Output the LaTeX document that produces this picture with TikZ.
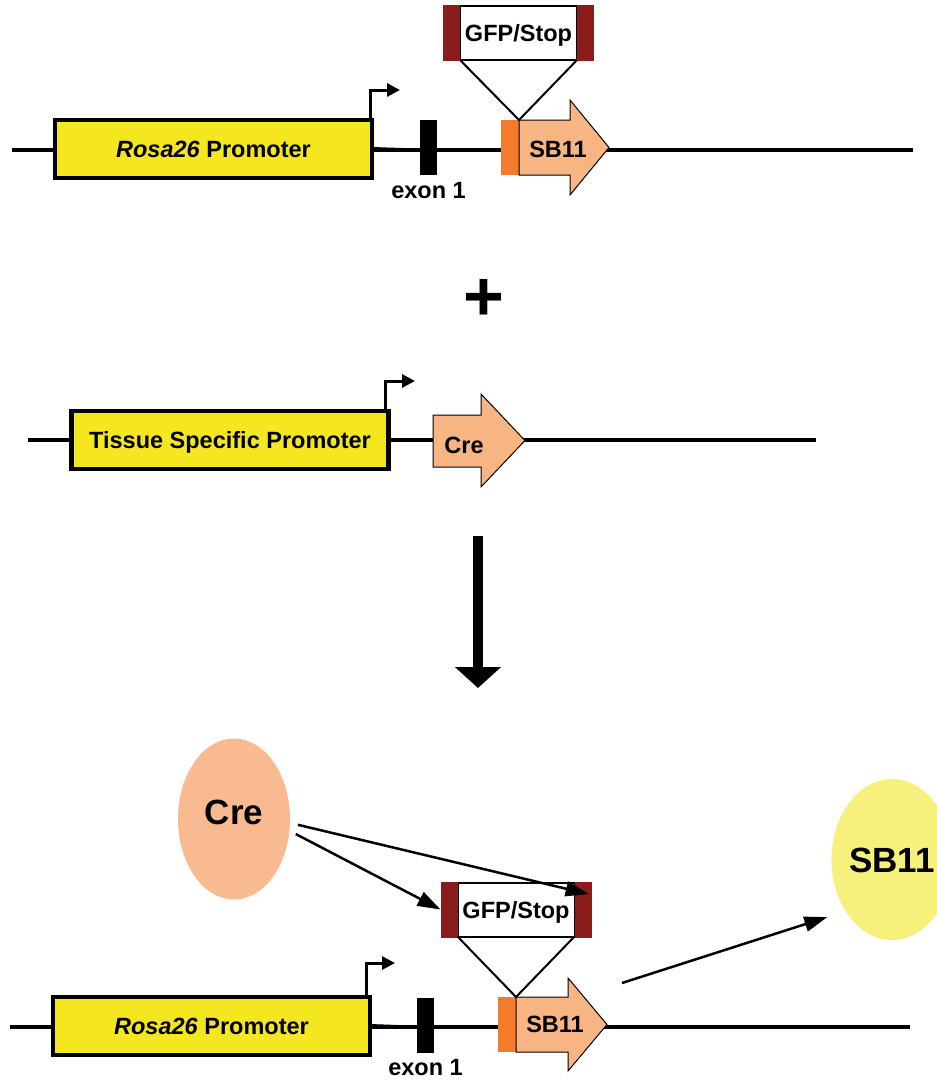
\documentclass[tikz,border=0pt]{standalone}
\usepackage{fontspec}
\setmainfont{Liberation Sans}
\usetikzlibrary{positioning,shapes.geometric,arrows.meta}

\definecolor{promyellow}{HTML}{F4E71F}
\definecolor{genepeach}{HTML}{F7B584}
\definecolor{loxorange}{HTML}{F37B2B}
\definecolor{capred}{HTML}{8B1C1C}
\definecolor{crepeach}{HTML}{F9BA91}
\definecolor{sbyellow}{HTML}{F6F07C}

\begin{document}
\begin{tikzpicture}[x=1pt, y=-1pt]
	\tikzstyle{dna}=[line width=3.2pt]
	\tikzstyle{promoter}=[rectangle, draw=black, line width=4.5pt, fill=promyellow, minimum width=317pt, minimum height=58pt, inner sep=0pt, outer sep=0pt, font=\fontsize{23.5}{27}\selectfont\bfseries, text height=17pt, text depth=0pt]
	\tikzstyle{tss}=[line width=3pt, -{Triangle[length=13pt,width=13pt]}]
	\tikzstyle{exon}=[rectangle, fill=black, minimum width=17pt, minimum height=55pt, inner sep=0pt]
	\tikzstyle{lox}=[rectangle, fill=loxorange, minimum width=18pt, minimum height=55pt, inner sep=0pt, outer sep=0pt]
	\tikzstyle{gene}=[fill=genepeach, draw=black, line width=1pt]
	\tikzstyle{txt}=[inner sep=0pt, font=\fontsize{23.5}{27}\selectfont\bfseries, text height=17pt, text depth=0pt]
	\tikzstyle{gfp}=[rectangle, draw=black, line width=2pt, fill=white, minimum width=117pt, minimum height=54pt, inner sep=0pt, outer sep=0pt, font=\fontsize{23.5}{27}\selectfont\bfseries, text height=17pt, text depth=0pt]
	\tikzstyle{endcap}=[rectangle, fill=capred, minimum width=17pt, minimum height=56pt, inner sep=0pt, outer sep=0pt]
	\tikzstyle{connect}=[line width=2pt]
	\tikzstyle{blob}=[ellipse, minimum width=112pt, minimum height=161pt, inner sep=0pt, font=\fontsize{35}{40}\selectfont\bfseries, text height=25pt, text depth=0pt]
	\tikzstyle{act}=[line width=2.5pt, -{Triangle[length=23pt,width=15pt]}]
	\useasboundingbox (0,0) rectangle (937,1080);

	% Rosa26 allele
	\coordinate (dnaAL) at (12,150);
	\coordinate (dnaAR) at (913,150);
	\draw[dna] (dnaAL) -- (dnaAR);
	\node[promoter] (promA) at (213.5,149) {\textit{Rosa26} Promoter};
	\coordinate (thkA) at (402,150);
	\draw[dna, line width=4pt] (promA.east) -- (thkA);
	\coordinate (tssA) at (400,90);
	\draw[tss] ([xshift=-2pt]promA.north east) |- (tssA);
	\node[exon] (exonA) at (428.5,147.5) {};
	\node[txt]  (exlabA) [below=6pt of exonA] {exon 1};
	\node[lox]  (loxA) at (510,147.5) {};
	\draw[gene] (loxA.north east) -- ++(51,0) -- ++(0,-20) -- ++(39,47.5) -- ++(-39,47.5) -- ++(0,-20) -- (loxA.south east) -- cycle;
	\node[txt]  (sbtA) at (558,148.5) {SB11};
	\node[gfp]  (gfpA) at (518.5,33) {GFP/Stop};
	\node[endcap]  (capLA) [left=0pt of gfpA] {};
	\node[endcap]  (capRA) [right=0pt of gfpA] {};
	\draw[connect] (gfpA.south west) -- (loxA.north east) -- (gfpA.south east);

	\node[font=\fontsize{70}{70}\selectfont\bfseries, inner sep=0pt] (plus) at (484,300) {+};

	% tissue specific Cre
	\coordinate (dnaBL) at (28,440);
	\coordinate (dnaBR) at (816,440);
	\draw[dna, line width=4.2pt] (dnaBL) -- (dnaBR);
	\node[promoter] (promB) at (230,440) {Tissue Specific Promoter};
	\coordinate (tssB) at (415,381);
	\draw[tss] ([xshift=-3pt]promB.north east) |- (tssB);
	\coordinate (creB) at (433,415);
	\draw[gene] (creB) -- ++(48,0) -- ++(0,-21) -- ++(44,46.5) -- ++(-44,46.5) -- ++(0,-20) -- ++(-48,0) -- cycle;
	\node[txt] (cretB) at (464,445) {Cre};

	\coordinate (downTop) at (478,536);
	\coordinate (downTip) at (478,688);
	\draw[line width=9.5pt, -{Triangle[length=21pt,width=45pt]}] (downTop) -- (downTip);

	% recombined allele
	\coordinate (dnaCL) at (10,1027);
	\coordinate (dnaCR) at (910,1027);
	\draw[dna] (dnaCL) -- (dnaCR);
	\node[promoter] (promC) at (211.5,1026) {\textit{Rosa26} Promoter};
	\coordinate (thkC) at (398,1027);
	\draw[dna, line width=4pt] (promC.east) -- (thkC);
	\coordinate (tssC) at (395,963);
	\draw[tss] ([xshift=-4pt]promC.north east) |- (tssC);
	\node[exon] (exonC) at (425.5,1025) {};
	\node[txt]  (exlabC) [below=6pt of exonC] {exon 1};
	\node[lox]  (loxC) at (507,1024.5) {};
	\draw[gene] (loxC.north east) -- ++(52,0) -- ++(0,-19) -- ++(39,46.5) -- ++(-39,46.5) -- ++(0,-19) -- (loxC.south east) -- cycle;
	\node[txt]  (sbtC) at (555,1023.5) {SB11};
	\node[gfp]  (gfpC) at (516,909.5) {GFP/Stop};
	\node[endcap]  (capLC) [left=0pt of gfpC] {};
	\node[endcap]  (capRC) [right=0pt of gfpC] {};
	\draw[connect] (gfpC.south west) -- (loxC.north east) -- (gfpC.south east);

	\node[blob, fill=crepeach, text depth=15pt] (creC) at (234,819) {Cre};
	\node[blob, fill=sbyellow] (sbC) at (892,859.5) {SB11};
	\coordinate (release) at (622,983);

	\path
	(creC.-12) edge [act, shorten <=7pt] (capLC.west)
	(creC.-4)  edge [act, shorten <=8pt, shorten >=3pt] (capRC.60)
	(release)  edge [act, shorten >=19pt] (sbC.228)
	;

\end{tikzpicture}
\end{document}
